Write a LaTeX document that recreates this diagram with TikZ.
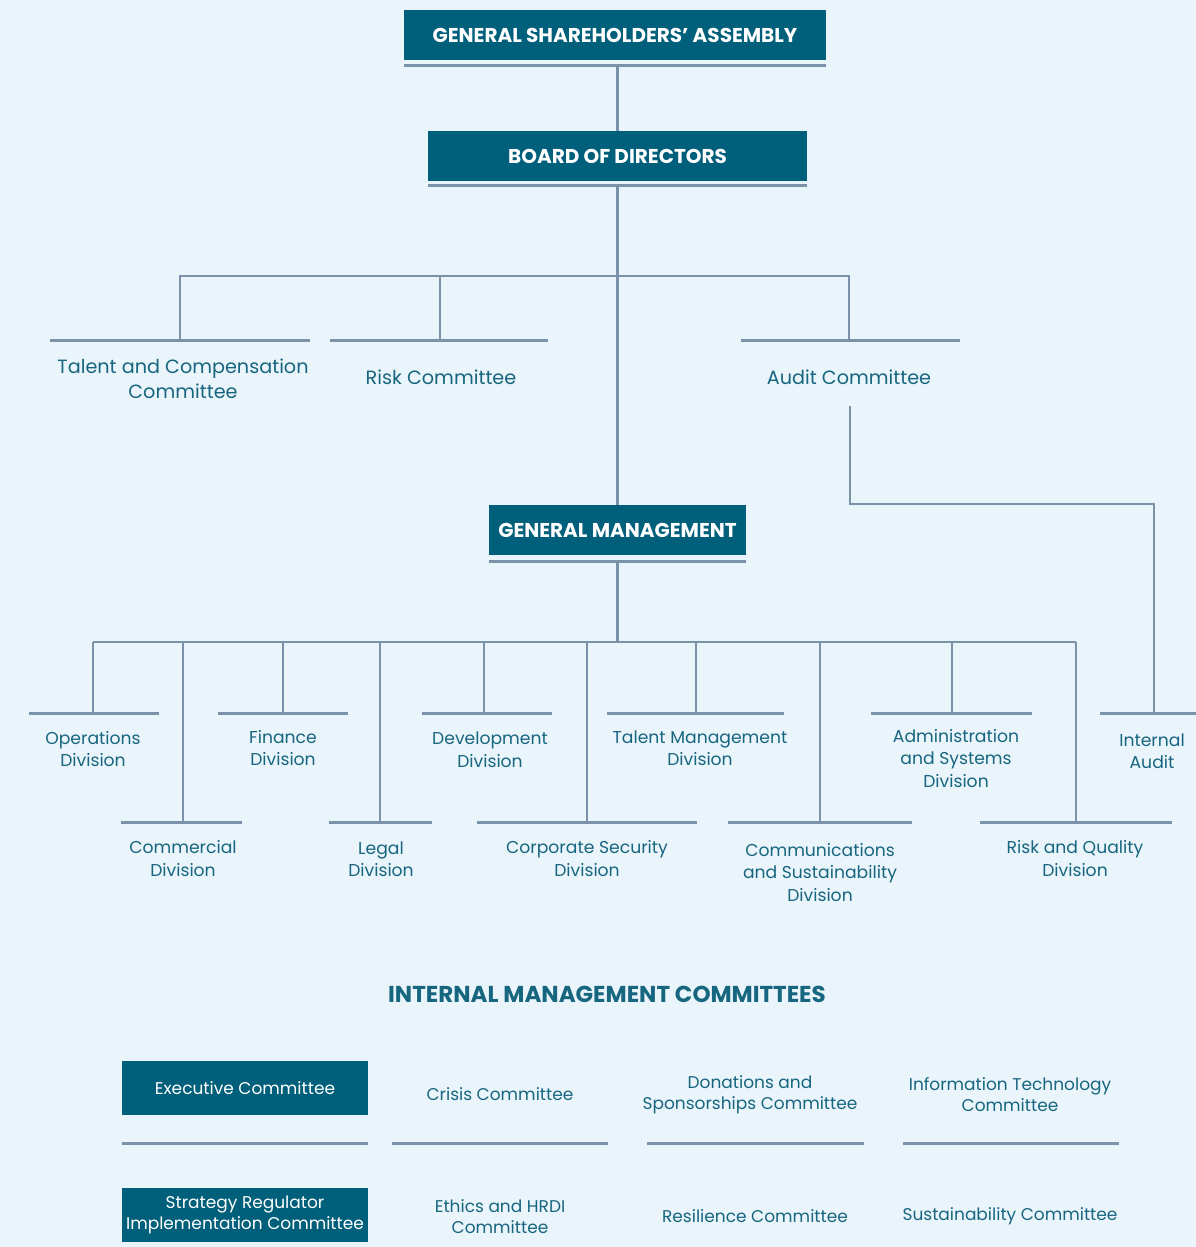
\documentclass[tikz,border=0pt]{standalone}
\usepackage{fontspec}
\setmainfont{Poppins}
\definecolor{bg}{HTML}{EAF4FB}
\definecolor{boxc}{HTML}{005F7A}
\definecolor{linec}{HTML}{7B93A8}
\definecolor{txtc}{HTML}{17667F}
\begin{document}
\begin{tikzpicture}[x=1pt,y=-1pt,
  topbox/.style={fill=boxc,text=white,inner sep=0pt,font=\bfseries\fontsize{20}{24}\selectfont},
  rule/.style={linec,line width=3pt},
  conn/.style={linec,line width=2.6pt},
  comm/.style={text=txtc,align=center,inner sep=0pt,font=\fontsize{19.2}{25}\selectfont},
  divt/.style={text=txtc,align=center,inner sep=0pt,font=\fontsize{17.2}{22.5}\selectfont},
  imc/.style={text=txtc,align=center,inner sep=0pt,font=\fontsize{17}{21}\selectfont},
  imcbox/.style={fill=boxc,text=white,align=center,inner sep=0pt,minimum width=246pt,font=\fontsize{17}{21}\selectfont},
  sect/.style={text=txtc,inner sep=0pt,font=\bfseries\fontsize{23}{27}\selectfont}]
\fill[bg] (0,0) rectangle (1196,1247);
\useasboundingbox (0,0) rectangle (1196,1247);

% top boxes
\node[topbox,minimum width=422pt,minimum height=50pt] (gsa) at (615,35) {GENERAL SHAREHOLDERS’ ASSEMBLY};
\draw[rule] (404,66) -- (826,66);
\node[topbox,minimum width=379pt,minimum height=50pt] (bod) at (617.5,156) {BOARD OF DIRECTORS};
\draw[rule] (428,185) -- (807,185);
\node[topbox,minimum width=257pt,minimum height=50pt] (gm) at (617.5,530) {GENERAL MANAGEMENT};
\draw[rule] (489,561) -- (746,561);

\coordinate (gsaU) at (617.5,66);
\coordinate (bodU) at (617.5,185);
\coordinate (gmU) at (617.5,561);
\draw[conn] (gsaU) -- (bod.north);
\draw[conn] (bodU) -- (gm.north);

% board committees
\coordinate (cbus) at (617.5,276);
\coordinate (talU) at (180,340);
\coordinate (riskU) at (440,340);
\coordinate (audU) at (849,340);
\draw[rule] (50,340) -- (310,340);
\draw[rule] (330,340) -- (548,340);
\draw[rule] (741,340) -- (960,340);
\draw[conn] (talU) |- (cbus) -| (audU);
\draw[conn] (riskU) -- (riskU |- cbus);
\node[comm] (tal) at (183,379) {Talent and Compensation\\Committee};
\node[comm] (risk) at (441,377) {Risk Committee};
\node[comm] (aud) at (849,377) {Audit Committee};

% internal audit
\coordinate (audS) at (850,406);
\coordinate (iaU) at (1154,713);
\draw[conn] (audS) |- (1154,504) -- (iaU);
\draw[rule] (1100,713) -- (1196,713);
\node[divt] (ia) at (1152,751) {Internal\\Audit};

% divisions
\coordinate (dbus) at (617.5,642);
\draw[conn] (gmU) -- (dbus);
\draw[conn] (93,642) -- (1076,642);
\foreach \x/\y in {93/713,183/822,283/713,380/822,484/713,587/822,696/713,820/822,952/713,1076/822}
  \draw[conn] (\x,642) -- (\x,\y);
% underlines
\draw[rule] (29,713) -- (159,713);
\draw[rule] (218,713) -- (348,713);
\draw[rule] (422,713) -- (552,713);
\draw[rule] (607,713) -- (784,713);
\draw[rule] (871,713) -- (1032,713);
\draw[rule] (121,822) -- (242,822);
\draw[rule] (329,822) -- (432,822);
\draw[rule] (477,822) -- (697,822);
\draw[rule] (728,822) -- (912,822);
\draw[rule] (980,822) -- (1172,822);

\node[divt] (ops) at (93,749) {Operations\\Division};
\node[divt] (fin) at (283,748) {Finance\\Division};
\node[divt] (dev) at (490,749.5) {Development\\Division};
\node[divt] (tm) at (700,748) {Talent Management\\Division};
\node[divt] (adm) at (956,758.5) {Administration\\and Systems\\Division};
\node[divt] (com) at (183,858.5) {Commercial\\Division};
\node[divt] (leg) at (381,859) {Legal\\Division};
\node[divt] (cs) at (587,858.5) {Corporate Security\\Division};
\node[divt] (cms) at (820,872.5) {Communications\\and Sustainability\\Division};
\node[divt] (rq) at (1075,858.5) {Risk and Quality\\Division};

% internal management committees
\node[sect] (imct) at (607,994) {INTERNAL MANAGEMENT COMMITTEES};
\node[imcbox,minimum height=54pt] (exec) at (245,1088) {Executive Committee};
\node[imcbox,minimum height=54pt] (strat) at (245,1215) {Strategy Regulator\\Implementation Committee};
\node[imc] (cris) at (500,1094) {Crisis Committee};
\node[imc] (don) at (750,1094.5) {Donations and\\Sponsorships Committee};
\node[imc] (it) at (1010,1094.5) {Information Technology\\Committee};
\node[imc] (eth) at (500,1216.5) {Ethics and HRDI\\Committee};
\node[imc] (res) at (755,1216) {Resilience Committee};
\node[imc] (sus) at (1010,1216) {Sustainability Committee};
\draw[rule] (122,1143) -- (368,1143);
\draw[rule] (392,1143) -- (608,1143);
\draw[rule] (647,1143) -- (864,1143);
\draw[rule] (903,1143) -- (1119,1143);
\end{tikzpicture}
\end{document}
